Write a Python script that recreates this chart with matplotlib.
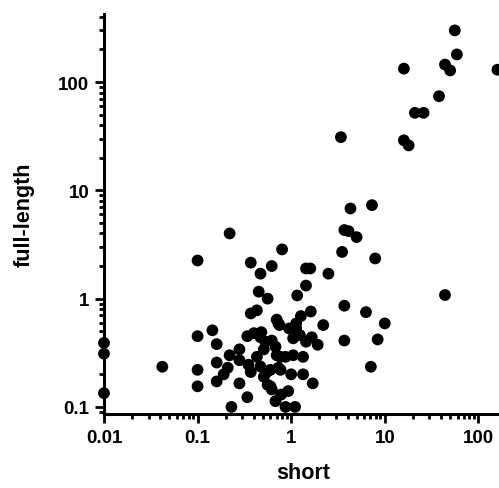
"""
Scatter of full-length vs short values on log-log axes
"""

import matplotlib
matplotlib.use("Agg")
import matplotlib.pyplot as plt
from matplotlib.ticker import LogLocator, FixedLocator, FixedFormatter, NullFormatter

plt.rcParams['font.family'] = ['Liberation Sans', 'DejaVu Sans']

# Data
short = [56, 59, 44, 50, 160, 16, 38, 21, 26, 3.4, 16, 18, 4.3, 7.3, 3.7, 4.1, 5.0, 3.5,
         7.9, 2.5, 44, 3.7, 6.3, 10, 3.7, 8.4, 7.1,
         0.8, 0.62, 0.47, 0.37, 1.44, 1.6, 1.44, 0.45, 1.16, 0.56, 0.22, 0.1, 0.43, 1.62,
         1.27, 0.7, 2.2, 0.95, 1.13, 0.75, 0.47, 1.05, 1.24, 1.66, 1.92, 1.44, 0.51, 0.68,
         0.7, 0.87, 1.05, 1.34, 0.43, 0.73, 0.6, 1.0, 1.34, 1.7, 0.51, 0.56, 0.62, 0.93,
         0.78, 0.68, 0.87, 1.1,
         0.37, 0.144, 0.1, 0.34, 0.16, 0.28, 0.22, 0.28, 0.16, 0.35, 0.042, 0.1, 0.21, 0.19,
         0.37, 0.16, 0.28, 0.1, 0.34, 0.23, 0.01, 0.01, 0.01,
         0.40, 0.48, 0.53, 0.47, 0.55, 0.60, 0.77, 0.77, 1.13, 0.73, 0.62]
full_length = [300, 180, 145, 128, 130, 133, 74, 52, 52, 31, 29, 26, 6.8, 7.3, 4.3, 4.2, 3.7, 2.7,
               2.35, 1.7, 1.08, 0.86, 0.75, 0.59, 0.41, 0.42, 0.235,
               2.85, 2.0, 1.7, 2.15, 1.9, 1.9, 1.32, 1.16, 1.07, 1.0, 4.0, 2.25, 0.78, 0.76,
               0.69, 0.64, 0.57, 0.53, 0.53, 0.57, 0.44, 0.43, 0.46, 0.44, 0.375, 0.40, 0.34, 0.36,
               0.30, 0.29, 0.30, 0.29, 0.29, 0.23, 0.22, 0.20, 0.20, 0.165, 0.19, 0.16, 0.145, 0.14,
               0.13, 0.113, 0.10, 0.10,
               0.73, 0.51, 0.45, 0.45, 0.38, 0.34, 0.30, 0.27, 0.257, 0.245, 0.235, 0.22, 0.23, 0.20,
               0.21, 0.172, 0.165, 0.155, 0.123, 0.10, 0.39, 0.31, 0.134,
               0.48, 0.49, 0.40, 0.236, 0.21, 0.155, 0.29, 0.22, 0.59, 0.59, 0.41]

x_ticks = [0.01, 0.1, 1, 10, 100]
x_tick_labels = ["0.01", "0.1", "1", "10", "100"]
y_ticks = [0.1, 1, 10, 100]
y_tick_labels = ["0.1", "1", "10", "100"]

fig = plt.figure(figsize=(4.99, 4.89), dpi=100)
# axis runs past the right edge of the picture, like the original
ax = fig.add_axes([0.2084, 0.1513, 0.8397, 0.818])

ax.scatter(short, full_length, s=72, color="black", edgecolors="none", zorder=3, clip_on=False)

ax.set_xscale("log")
ax.set_yscale("log")
ax.set_xlim(0.01, 300)
ax.set_ylim(0.086, 425)

# Ticks
ax.xaxis.set_major_locator(FixedLocator(x_ticks))
ax.xaxis.set_major_formatter(FixedFormatter(x_tick_labels))
ax.yaxis.set_major_locator(FixedLocator(y_ticks))
ax.yaxis.set_major_formatter(FixedFormatter(y_tick_labels))
for axis in (ax.xaxis, ax.yaxis):
    axis.set_minor_locator(LogLocator(base=10, subs=range(2, 10), numticks=20))
    axis.set_minor_formatter(NullFormatter())

ax.tick_params(which="major", direction="out", length=6.5, width=2, labelsize=13.5, pad=4)
ax.tick_params(which="minor", direction="out", length=3.5, width=2)
for lab in ax.get_xticklabels() + ax.get_yticklabels():
    lab.set_fontweight("bold")

for side in ("top", "right"):
    ax.spines[side].set_visible(False)
for side in ("left", "bottom"):
    ax.spines[side].set_linewidth(2.2)

ax.set_xlabel("short", fontsize=15.5, fontweight="bold")
ax.set_ylabel("full-length", fontsize=15.5, fontweight="bold")
ax.xaxis.set_label_coords(0.475, -0.12)
ax.yaxis.set_label_coords(-0.165, 0.5)

fig.savefig("out.png", dpi=100)
plt.close(fig)
